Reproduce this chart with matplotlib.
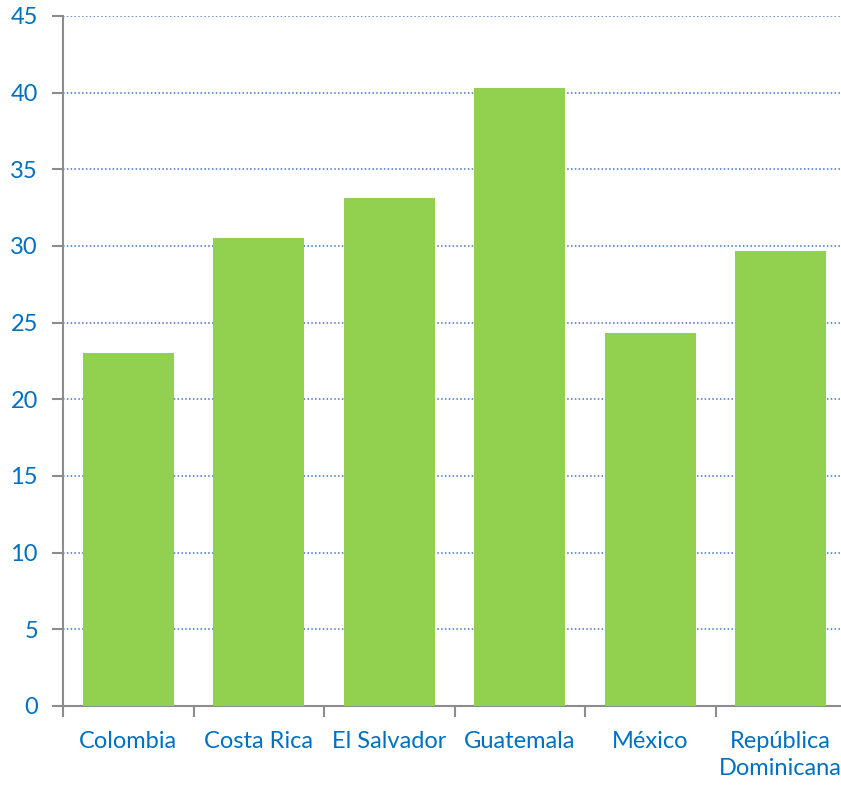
import numpy as np
import matplotlib.pyplot as plt

# Datos
paises = ["Colombia", "Costa Rica", "El Salvador", "Guatemala", "México", "República\nDominicana"]
valores = [23.0, 30.5, 33.1, 40.3, 24.3, 29.7]
y_ticks = [0, 5, 10, 15, 20, 25, 30, 35, 40, 45]

plt.rcParams['font.family'] = ['Lato', 'DejaVu Sans']

text_color = '#0070C0'
axis_color = '#8c8c8c'

fig = plt.figure(figsize=(8.41, 7.85), dpi=100)
ax = fig.add_axes([63 / 841, 79 / 785, 783 / 841, 690 / 785])

x = np.arange(len(paises))
ax.bar(x, valores, width=0.7, color='#92D050', zorder=3)

ax.set_xlim(-0.5, len(paises) - 0.5)
ax.set_ylim(0, 45)
ax.set_yticks(y_ticks)
ax.set_yticklabels([str(t) for t in y_ticks])

# grid punteado
ax.yaxis.grid(True, linestyle=(0, (1, 1.5)), color='#4472C4', linewidth=1.1, zorder=0)
ax.set_axisbelow(True)

ax.set_xticks(x)
ax.set_xticklabels(paises, linespacing=1.35)
ax.set_xticks(np.arange(-0.5, len(paises), 1), minor=True)
ax.tick_params(axis='x', which='major', length=0, pad=18, labelsize=17, labelcolor=text_color)
ax.tick_params(axis='x', which='minor', length=8, width=1.5, color=axis_color, direction='out')
ax.tick_params(axis='y', length=8, width=1.5, color=axis_color, labelsize=17, labelcolor=text_color, pad=10)

for s in ['top', 'right']:
    ax.spines[s].set_visible(False)
for s in ['left', 'bottom']:
    ax.spines[s].set_color(axis_color)
    ax.spines[s].set_linewidth(1.5)

fig.savefig("out.png", dpi=100)
